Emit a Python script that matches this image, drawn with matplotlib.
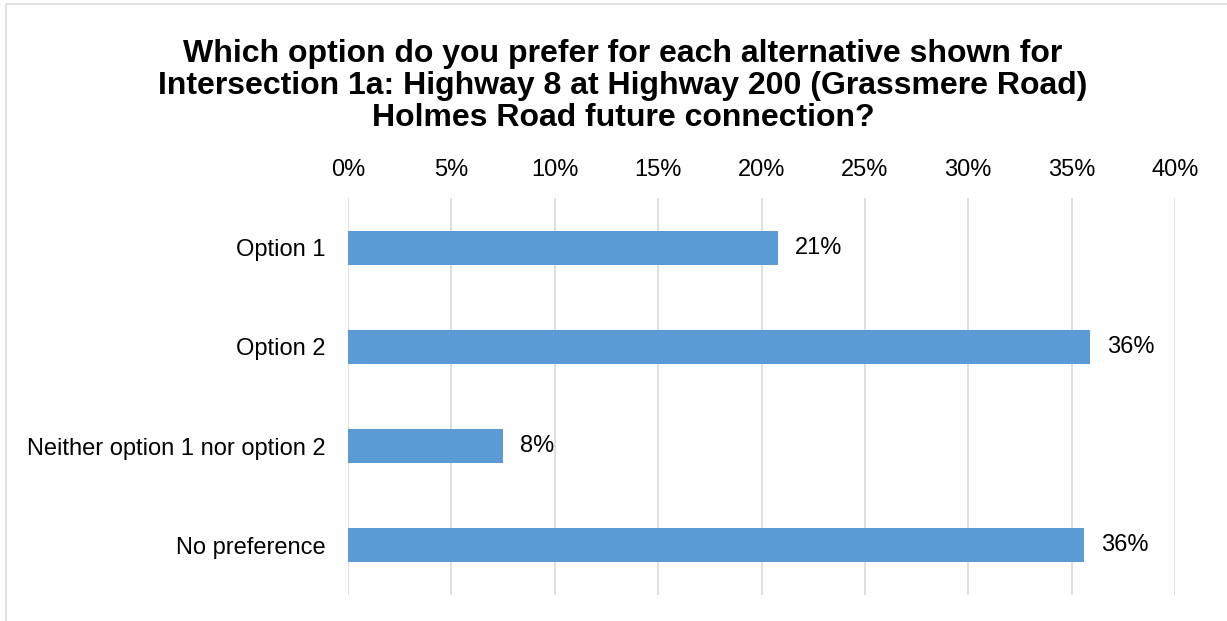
import matplotlib
matplotlib.use("Agg")
import matplotlib.pyplot as plt
from matplotlib.patches import Rectangle
from matplotlib.ticker import FuncFormatter

plt.rcParams['font.family'] = ['Liberation Sans', 'DejaVu Sans']

categories = ["Option 1", "Option 2", "Neither option 1 nor option 2", "No preference"]
values = [20.8, 35.9, 7.5, 35.6]
ticks = [0, 5, 10, 15, 20, 25, 30, 35, 40]
title = ("Which option do you prefer for each alternative shown for\n"
         "Intersection 1a: Highway 8 at Highway 200 (Grassmere Road)\n"
         "Holmes Road future connection?")

W, H = 1227, 621
fig = plt.figure(figsize=(W / 100, H / 100), dpi=100)

# outer chart frame
fig.patches.append(Rectangle((6 / W, -0.1), 1.2, (H - 4) / H + 0.1, transform=fig.transFigure,
                             fill=False, edgecolor="#D9D9D9", linewidth=1.2))

ax = fig.add_axes([348 / W, 1 - 595 / H, (1175 - 348) / W, (595 - 198) / H])
y = list(range(len(categories)))
ax.barh(y, values, height=0.345, color="#5B9BD5", zorder=3)
ax.set_ylim(len(categories) - 0.5, -0.5)
ax.set_xlim(0, 40)
ax.set_xticks(ticks)
ax.xaxis.set_major_formatter(FuncFormatter(lambda v, p: f"{v:.0f}%"))
ax.xaxis.tick_top()
ax.set_yticks(y)
ax.set_yticklabels(categories)
ax.tick_params(axis="both", length=0, labelsize=17, colors="#000000")
ax.tick_params(axis="x", pad=12)
ax.tick_params(axis="y", pad=16)
ax.grid(axis="x", color="#D9D9D9", linewidth=1.2, zorder=0)
for s in ax.spines.values():
    s.set_visible(False)

for yi, v in zip(y, values):
    ax.annotate(f"{v:.0f}%", xy=(v, yi), xytext=(12, 0), textcoords="offset points",
                va="center", ha="left", fontsize=17, color="#000000")

fig.text(623 / W, 1 - 86 / H, title, ha="center", va="center", fontsize=23,
         fontweight="bold", linespacing=1.08)

fig.savefig("out.png", dpi=100)
